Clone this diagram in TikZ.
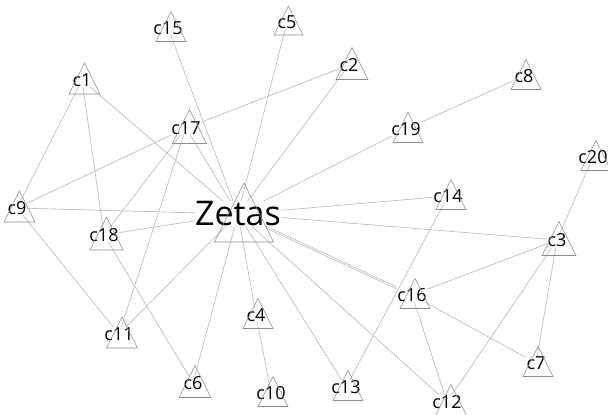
\documentclass[tikz,border=0pt]{standalone}
\usepackage{fontspec}
\setmainfont{Open Sans}
\begin{document}
\begin{tikzpicture}[x=1pt,y=-1pt,
  vert/.style={inner sep=0.5pt,text=black,font=\fontsize{18pt}{20pt}\selectfont},
  tie/.style={draw=black!27,line width=0.65pt},
  tri/.style={draw=black!45,line width=0.6pt,line join=miter}]

\useasboundingbox (0,0) rectangle (608,415);
\clip (0,0) rectangle (608,415);

\node[vert,font=\fontsize{34pt}{36pt}\selectfont] (Zetas) at (238,214) {Zetas};

\node[vert] (c1) at (82,80) {c1};
\node[vert] (c2) at (349,65) {c2};
\node[vert] (c3) at (557,240) {c3};
\node[vert] (c4) at (256,315) {c4};
\node[vert] (c5) at (287,22) {c5};
\node[vert] (c6) at (193,383) {c6};
\node[vert] (c7) at (536,363) {c7};
\node[vert] (c8) at (524,76) {c8};
\node[vert] (c9) at (17,208) {c9};
\node[vert] (c10) at (271,393) {c10};
\node[vert] (c11) at (119,334) {c11};
\node[vert] (c12) at (447,402) {c12};
\node[vert] (c13) at (346,387) {c13};
\node[vert] (c14) at (448,196) {c14};
\node[vert] (c15) at (168,28) {c15};
\node[vert] (c16) at (412,295) {c16};
\node[vert] (c17) at (186,128) {c17};
\node[vert] (c18) at (104,235) {c18};
\node[vert] (c19) at (406,129) {c19};
\node[vert] (c20) at (593,157) {c20};

% ties to the ego
\foreach \n in {c1,c9,c17,c15,c5,c2,c19,c14,c3,c12,c13,c4,c6,c11,c18}
{
  \draw[tie] (Zetas) -- (\n);
}
\draw[tie,transform canvas={yshift=1pt}] (Zetas) -- (c16);
\draw[tie,transform canvas={yshift=-1pt}] (Zetas) -- (c16);

% ties among the others
\draw[tie] (c1) -- (c9);
\draw[tie] (c1) -- (c18);
\draw[tie] (c9) -- (c17);
\draw[tie] (c9) -- (c11);
\draw[tie] (c17) -- (c18);
\draw[tie] (c17) -- (c11);
\draw[tie] (c17) -- (c2);
\draw[tie] (c18) -- (c6);
\draw[tie] (c19) -- (c8);
\draw[tie] (c3) -- (c20);
\draw[tie] (c3) -- (c16);
\draw[tie] (c3) -- (c12);
\draw[tie] (c3) -- (c7);
\draw[tie] (c16) -- (c12);
\draw[tie] (c16) -- (c7);
\draw[tie] (c14) -- (c13);
\draw[tie] (c4) -- (c10);

% triangles round the labels
\foreach \n/\s/\d in {Zetas/29.5/6,c1/15.5/2.5,c2/16/3,c3/17/2,c4/15/2,c5/14.5/1.5,
  c6/16/2,c7/15/2,c8/15/2,c9/15.5/2.5,c10/15/2,c11/15.5/3,c12/16/4,c13/15/2,
  c14/15/3,c15/15/3,c16/15/3,c17/17/3.5,c18/16.5/2.5,c19/15/2,c20/15/3}
{
  \draw[tri] ([shift={(\d-\s,\s-1.5)}]\n.center) -- ([shift={(\d,-\s-1.5)}]\n.center)
    -- ([shift={(\d+\s,\s-1.5)}]\n.center) -- cycle;
}

\end{tikzpicture}
\end{document}
